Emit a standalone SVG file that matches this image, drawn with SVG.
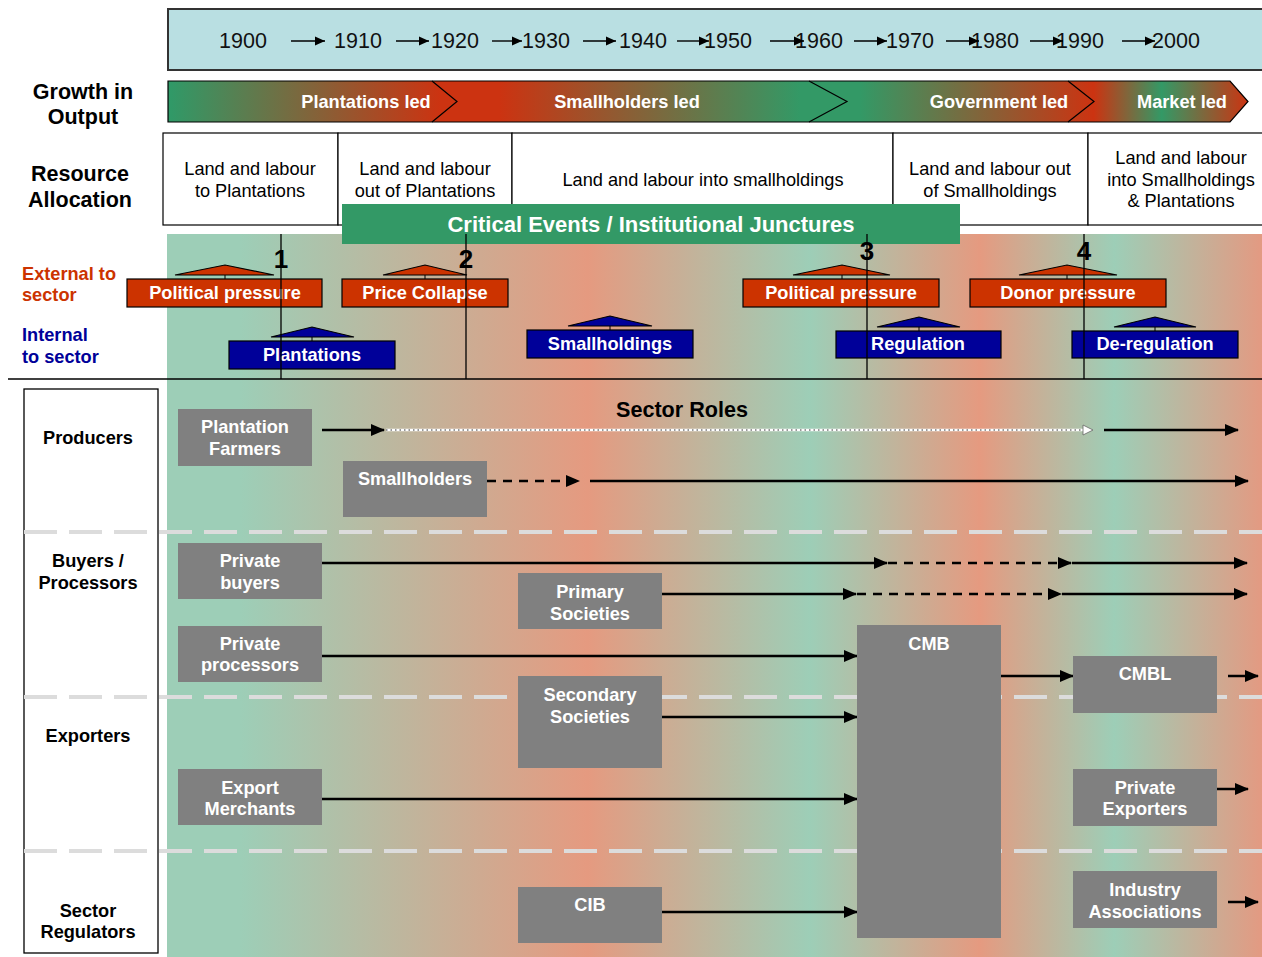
<svg xmlns="http://www.w3.org/2000/svg" width="1262" height="957" viewBox="0 0 1262 957">
<defs>
<style>
text{font-family:"Liberation Sans",Arial,sans-serif}
.yr{font-size:21.5px;fill:#111}
.hd{font-size:21.5px;font-weight:bold;fill:#000;text-anchor:middle}
.cell{fill:#fff;stroke:#000;stroke-width:1.2}
.ct{font-size:18.2px;fill:#000;text-anchor:middle}
.bt{font-size:18.2px;font-weight:bold;fill:#fff;text-anchor:middle}
.lb{font-size:18.2px;font-weight:bold;fill:#000;text-anchor:middle}
.ext{fill:#cc3300;stroke:#000;stroke-width:1.2}
.int{fill:#000099;stroke:#000;stroke-width:1.2}
.gb{fill:#808080}
.num{font-size:26px;font-weight:bold;fill:#000;text-anchor:middle}
.jl{stroke:#000;stroke-width:1.3}
.sep{stroke:#dcdcdc;stroke-width:4;stroke-dasharray:33,12}
.ln{stroke:#000;stroke-width:2.5;fill:none}
.dash{stroke:#000;stroke-width:2.5;stroke-dasharray:9,7;fill:none}
.tl{stroke:#000;stroke-width:1.4}
</style>
<marker id="ah" markerUnits="userSpaceOnUse" markerWidth="14" markerHeight="12" refX="13" refY="6" orient="auto">
<path d="M0,0 L14,6 L0,12 Z" fill="#000"/>
</marker>
<marker id="ahs" markerUnits="userSpaceOnUse" markerWidth="10" markerHeight="10" refX="10" refY="5" orient="auto">
<path d="M0,0.5 L10,5 L0,9.5 Z" fill="#000"/>
</marker>
<marker id="ahw" markerUnits="userSpaceOnUse" markerWidth="12" markerHeight="12" refX="11" refY="6" orient="auto">
<path d="M1,1 L11,6 L1,11 Z" fill="#fff" stroke="#666" stroke-width="0.8"/>
</marker>
<linearGradient id="bodyGrad" gradientUnits="userSpaceOnUse" x1="167" y1="0" x2="1262" y2="0">
<stop offset="0" stop-color="#9dceb7"/>
<stop offset="0.067" stop-color="#9dceb7"/>
<stop offset="0.384" stop-color="#e59a80"/>
<stop offset="0.587" stop-color="#9dceb7"/>
<stop offset="0.742" stop-color="#e59a80"/>
<stop offset="0.865" stop-color="#9dceb7"/>
<stop offset="1" stop-color="#e39a82"/>
</linearGradient>
<linearGradient id="barGrad" gradientUnits="userSpaceOnUse" x1="168" y1="0" x2="1248" y2="0">
<stop offset="0" stop-color="#2f9a68"/>
<stop offset="0.252" stop-color="#cc3311"/>
<stop offset="0.307" stop-color="#cc3311"/>
<stop offset="0.585" stop-color="#339966"/>
<stop offset="0.641" stop-color="#339966"/>
<stop offset="0.857" stop-color="#cc3311"/>
<stop offset="0.920" stop-color="#339966"/>
<stop offset="1" stop-color="#cc3311"/>
</linearGradient>
</defs>

<rect x="0" y="0" width="1262" height="957" fill="#fff"/>

<!-- Timeline -->
<g id="timeline">
<rect x="168" y="9" width="1100" height="61" fill="#b9dfe2" stroke="#333" stroke-width="2"/>
<text class="yr" x="243" y="48" text-anchor="middle">1900</text>
<text class="yr" x="358" y="48" text-anchor="middle">1910</text>
<text class="yr" x="455" y="48" text-anchor="middle">1920</text>
<text class="yr" x="546" y="48" text-anchor="middle">1930</text>
<text class="yr" x="643" y="48" text-anchor="middle">1940</text>
<text class="yr" x="728" y="48" text-anchor="middle">1950</text>
<text class="yr" x="819" y="48" text-anchor="middle">1960</text>
<text class="yr" x="910" y="48" text-anchor="middle">1970</text>
<text class="yr" x="995" y="48" text-anchor="middle">1980</text>
<text class="yr" x="1080" y="48" text-anchor="middle">1990</text>
<text class="yr" x="1176" y="48" text-anchor="middle">2000</text>
<line class="tl" x1="291" y1="41" x2="325" y2="41" marker-end="url(#ahs)"/>
<line class="tl" x1="396" y1="41" x2="429" y2="41" marker-end="url(#ahs)"/>
<line class="tl" x1="492" y1="41" x2="522" y2="41" marker-end="url(#ahs)"/>
<line class="tl" x1="583" y1="41" x2="616" y2="41" marker-end="url(#ahs)"/>
<line class="tl" x1="677" y1="41" x2="709" y2="41" marker-end="url(#ahs)"/>
<line class="tl" x1="770" y1="41" x2="804" y2="41" marker-end="url(#ahs)"/>
<line class="tl" x1="854" y1="41" x2="887" y2="41" marker-end="url(#ahs)"/>
<line class="tl" x1="946" y1="41" x2="979" y2="41" marker-end="url(#ahs)"/>
<line class="tl" x1="1030" y1="41" x2="1063" y2="41" marker-end="url(#ahs)"/>
<line class="tl" x1="1122" y1="41" x2="1155" y2="41" marker-end="url(#ahs)"/>
</g>

<!-- Row labels -->
<g id="row-labels">
<text class="hd" x="83" y="99">Growth in</text>
<text class="hd" x="83" y="124">Output</text>
<text class="hd" x="80" y="181">Resource</text>
<text class="hd" x="80" y="207">Allocation</text>
<text x="22" y="280" font-size="18.2" font-weight="bold" fill="#cc3300">External to</text>
<text x="22" y="301" font-size="18.2" font-weight="bold" fill="#cc3300">sector</text>
<text x="22" y="341" font-size="18.2" font-weight="bold" fill="#000099">Internal</text>
<text x="22" y="363" font-size="18.2" font-weight="bold" fill="#000099">to sector</text>
</g>

<!-- Growth bar -->
<g id="growth-bar">
<path d="M168,81 L1230,81 L1248,101.5 L1230,122 L168,122 Z" fill="url(#barGrad)" stroke="#000" stroke-width="1.2"/>
<polyline points="432,81 457,101.5 432,122" fill="none" stroke="#000" stroke-width="1.2"/>
<polyline points="809,81 847,101.5 809,122" fill="none" stroke="#000" stroke-width="1.2"/>
<polyline points="1068,81 1094,101.5 1068,122" fill="none" stroke="#000" stroke-width="1.2"/>
<text class="bt" x="366" y="108">Plantations led</text>
<text class="bt" x="627" y="108">Smallholders led</text>
<text class="bt" x="999" y="108">Government led</text>
<text class="bt" x="1182" y="108">Market led</text>
</g>

<!-- Resource allocation -->
<g id="resource-allocation">
<rect class="cell" x="163" y="133" width="175" height="92"/>
<rect class="cell" x="338" y="133" width="174" height="92"/>
<rect class="cell" x="512" y="133" width="381" height="92"/>
<rect class="cell" x="893" y="133" width="195" height="92"/>
<rect class="cell" x="1088" y="133" width="180" height="92"/>
<text class="ct" x="250" y="175">Land and labour</text>
<text class="ct" x="250" y="197">to Plantations</text>
<text class="ct" x="425" y="175">Land and labour</text>
<text class="ct" x="425" y="197">out of Plantations</text>
<text class="ct" x="703" y="186">Land and labour into smallholdings</text>
<text class="ct" x="990" y="175">Land and labour out</text>
<text class="ct" x="990" y="197">of Smallholdings</text>
<text class="ct" x="1181" y="164">Land and labour</text>
<text class="ct" x="1181" y="186">into Smallholdings</text>
<text class="ct" x="1181" y="207">&amp; Plantations</text>
</g>

<!-- Body background -->
<rect id="body-bg" x="167" y="234" width="1095" height="723" fill="url(#bodyGrad)"/>

<!-- Critical events banner -->
<g id="critical-events">
<rect x="342" y="204" width="618" height="40" fill="#339966"/>
<text x="651" y="232" font-size="22" font-weight="bold" fill="#fff" text-anchor="middle">Critical Events / Institutional Junctures</text>
</g>

<line x1="8" y1="379" x2="1262" y2="379" stroke="#000" stroke-width="1.3"/>

<!-- Events -->
<g id="ev-political-1">
<path d="M175,275 L225,265 L274,275 Z" class="ext"/>
<line x1="225" y1="275" x2="225" y2="279" stroke="#000"/>
<rect class="ext" x="127" y="279" width="195" height="28"/>
<text class="bt" x="225" y="299">Political pressure</text>
</g>
<g id="ev-price-collapse">
<path d="M383,275 L425,265 L467,275 Z" class="ext"/>
<line x1="425" y1="275" x2="425" y2="279" stroke="#000"/>
<rect class="ext" x="342" y="279" width="166" height="28"/>
<text class="bt" x="425" y="299">Price Collapse</text>
</g>
<g id="ev-plantations">
<path d="M271,337 L312,327 L354,337 Z" class="int"/>
<line x1="312" y1="337" x2="312" y2="341" stroke="#000"/>
<rect class="int" x="229" y="341" width="166" height="28"/>
<text class="bt" x="312" y="361">Plantations</text>
</g>
<g id="ev-smallholdings">
<path d="M568,326 L610,316 L652,326 Z" class="int"/>
<line x1="610" y1="326" x2="610" y2="330" stroke="#000"/>
<rect class="int" x="527" y="330" width="166" height="28"/>
<text class="bt" x="610" y="350">Smallholdings</text>
</g>
<g id="ev-political-2">
<path d="M793,275 L842,265 L890,275 Z" class="ext"/>
<line x1="842" y1="275" x2="842" y2="279" stroke="#000"/>
<rect class="ext" x="743" y="279" width="196" height="28"/>
<text class="bt" x="841" y="299">Political pressure</text>
</g>
<g id="ev-regulation">
<path d="M877,327 L919,317 L960,327 Z" class="int"/>
<line x1="919" y1="327" x2="919" y2="331" stroke="#000"/>
<rect class="int" x="836" y="331" width="165" height="27"/>
<text class="bt" x="918" y="350">Regulation</text>
</g>
<g id="ev-donor">
<path d="M1019,275 L1067,265 L1117,275 Z" class="ext"/>
<line x1="1067" y1="275" x2="1067" y2="279" stroke="#000"/>
<rect class="ext" x="970" y="279" width="196" height="28"/>
<text class="bt" x="1068" y="299">Donor pressure</text>
</g>
<g id="ev-deregulation">
<path d="M1114,327 L1155,317 L1196,327 Z" class="int"/>
<line x1="1155" y1="327" x2="1155" y2="331" stroke="#000"/>
<rect class="int" x="1072" y="331" width="166" height="27"/>
<text class="bt" x="1155" y="350">De-regulation</text>
</g>

<!-- Juncture lines -->
<g id="junctures">
<line class="jl" x1="281" y1="234" x2="281" y2="379"/>
<line class="jl" x1="466" y1="234" x2="466" y2="379"/>
<line class="jl" x1="867" y1="234" x2="867" y2="379"/>
<line class="jl" x1="1084" y1="234" x2="1084" y2="379"/>
<text class="num" x="281" y="268">1</text>
<text class="num" x="466" y="268">2</text>
<text class="num" x="867" y="260">3</text>
<text class="num" x="1084" y="260">4</text>
</g>

<!-- Sector roles left column -->
<g id="roles-column">
<rect x="24" y="389" width="134" height="564" fill="#fff" stroke="#000" stroke-width="1.3"/>
<text class="lb" x="88" y="444">Producers</text>
<text class="lb" x="88" y="567">Buyers /</text>
<text class="lb" x="88" y="589">Processors</text>
<text class="lb" x="88" y="742">Exporters</text>
<text class="lb" x="88" y="917">Sector</text>
<text class="lb" x="88" y="938">Regulators</text>
</g>

<g id="separators">
<line class="sep" x1="24" y1="532" x2="1262" y2="532"/>
<line class="sep" x1="24" y1="697" x2="1262" y2="697"/>
<line class="sep" x1="24" y1="851" x2="1262" y2="851"/>
</g>

<text x="682" y="417" font-size="21.6" font-weight="bold" text-anchor="middle">Sector Roles</text>

<!-- Connectors -->
<g id="connectors">
<line class="ln" x1="322" y1="430" x2="384" y2="430" marker-end="url(#ah)"/>
<line x1="386" y1="430" x2="1083" y2="430" stroke="#fff" stroke-width="2.5"/>
<line x1="386" y1="430" x2="1083" y2="430" stroke="#333" stroke-width="1" stroke-dasharray="1.5,3"/>
<line x1="1083" y1="430" x2="1093" y2="430" stroke="none" marker-end="url(#ahw)"/>
<line class="ln" x1="1104" y1="430" x2="1238" y2="430" marker-end="url(#ah)"/>

<line class="dash" x1="487" y1="481" x2="579" y2="481" marker-end="url(#ah)"/>
<line class="ln" x1="590" y1="481" x2="1248" y2="481" marker-end="url(#ah)"/>

<line class="ln" x1="322" y1="563" x2="887" y2="563" marker-end="url(#ah)"/>
<line class="dash" x1="888" y1="563" x2="1071" y2="563" marker-end="url(#ah)"/>
<line class="ln" x1="1072" y1="563" x2="1247" y2="563" marker-end="url(#ah)"/>

<line class="ln" x1="662" y1="594" x2="856" y2="594" marker-end="url(#ah)"/>
<line class="dash" x1="857" y1="594" x2="1061" y2="594" marker-end="url(#ah)"/>
<line class="ln" x1="1062" y1="594" x2="1247" y2="594" marker-end="url(#ah)"/>

<line class="ln" x1="322" y1="656" x2="857" y2="656" marker-end="url(#ah)"/>
<line class="ln" x1="662" y1="717" x2="857" y2="717" marker-end="url(#ah)"/>
<line class="ln" x1="322" y1="799" x2="857" y2="799" marker-end="url(#ah)"/>
<line class="ln" x1="662" y1="912" x2="857" y2="912" marker-end="url(#ah)"/>
<line class="ln" x1="1001" y1="676" x2="1073" y2="676" marker-end="url(#ah)"/>
<line class="ln" x1="1228" y1="676" x2="1258" y2="676" marker-end="url(#ah)"/>
<line class="ln" x1="1217" y1="789" x2="1248" y2="789" marker-end="url(#ah)"/>
<line class="ln" x1="1228" y1="902" x2="1258" y2="902" marker-end="url(#ah)"/>
</g>

<!-- Actor nodes -->
<g id="n-plantation-farmers"><rect class="gb" x="178" y="409" width="134" height="57"/><text class="bt" x="245" y="433">Plantation</text><text class="bt" x="245" y="455">Farmers</text></g>
<g id="n-smallholders"><rect class="gb" x="343" y="461" width="144" height="56"/><text class="bt" x="415" y="485">Smallholders</text></g>
<g id="n-private-buyers"><rect class="gb" x="178" y="543" width="144" height="56"/><text class="bt" x="250" y="567">Private</text><text class="bt" x="250" y="589">buyers</text></g>
<g id="n-primary-societies"><rect class="gb" x="518" y="573" width="144" height="56"/><text class="bt" x="590" y="598">Primary</text><text class="bt" x="590" y="620">Societies</text></g>
<g id="n-private-processors"><rect class="gb" x="178" y="626" width="144" height="56"/><text class="bt" x="250" y="650">Private</text><text class="bt" x="250" y="671">processors</text></g>
<g id="n-secondary-societies"><rect class="gb" x="518" y="676" width="144" height="92"/><text class="bt" x="590" y="701">Secondary</text><text class="bt" x="590" y="723">Societies</text></g>
<g id="n-export-merchants"><rect class="gb" x="178" y="769" width="144" height="56"/><text class="bt" x="250" y="794">Export</text><text class="bt" x="250" y="815">Merchants</text></g>
<g id="n-cib"><rect class="gb" x="518" y="887" width="144" height="56"/><text class="bt" x="590" y="911">CIB</text></g>
<g id="n-cmb"><rect class="gb" x="857" y="625" width="144" height="313"/><text class="bt" x="929" y="650">CMB</text></g>
<g id="n-cmbl"><rect class="gb" x="1073" y="656" width="144" height="57"/><text class="bt" x="1145" y="680">CMBL</text></g>
<g id="n-private-exporters"><rect class="gb" x="1073" y="769" width="144" height="57"/><text class="bt" x="1145" y="794">Private</text><text class="bt" x="1145" y="815">Exporters</text></g>
<g id="n-industry-associations"><rect class="gb" x="1073" y="871" width="144" height="57"/><text class="bt" x="1145" y="896">Industry</text><text class="bt" x="1145" y="918">Associations</text></g>
</svg>
